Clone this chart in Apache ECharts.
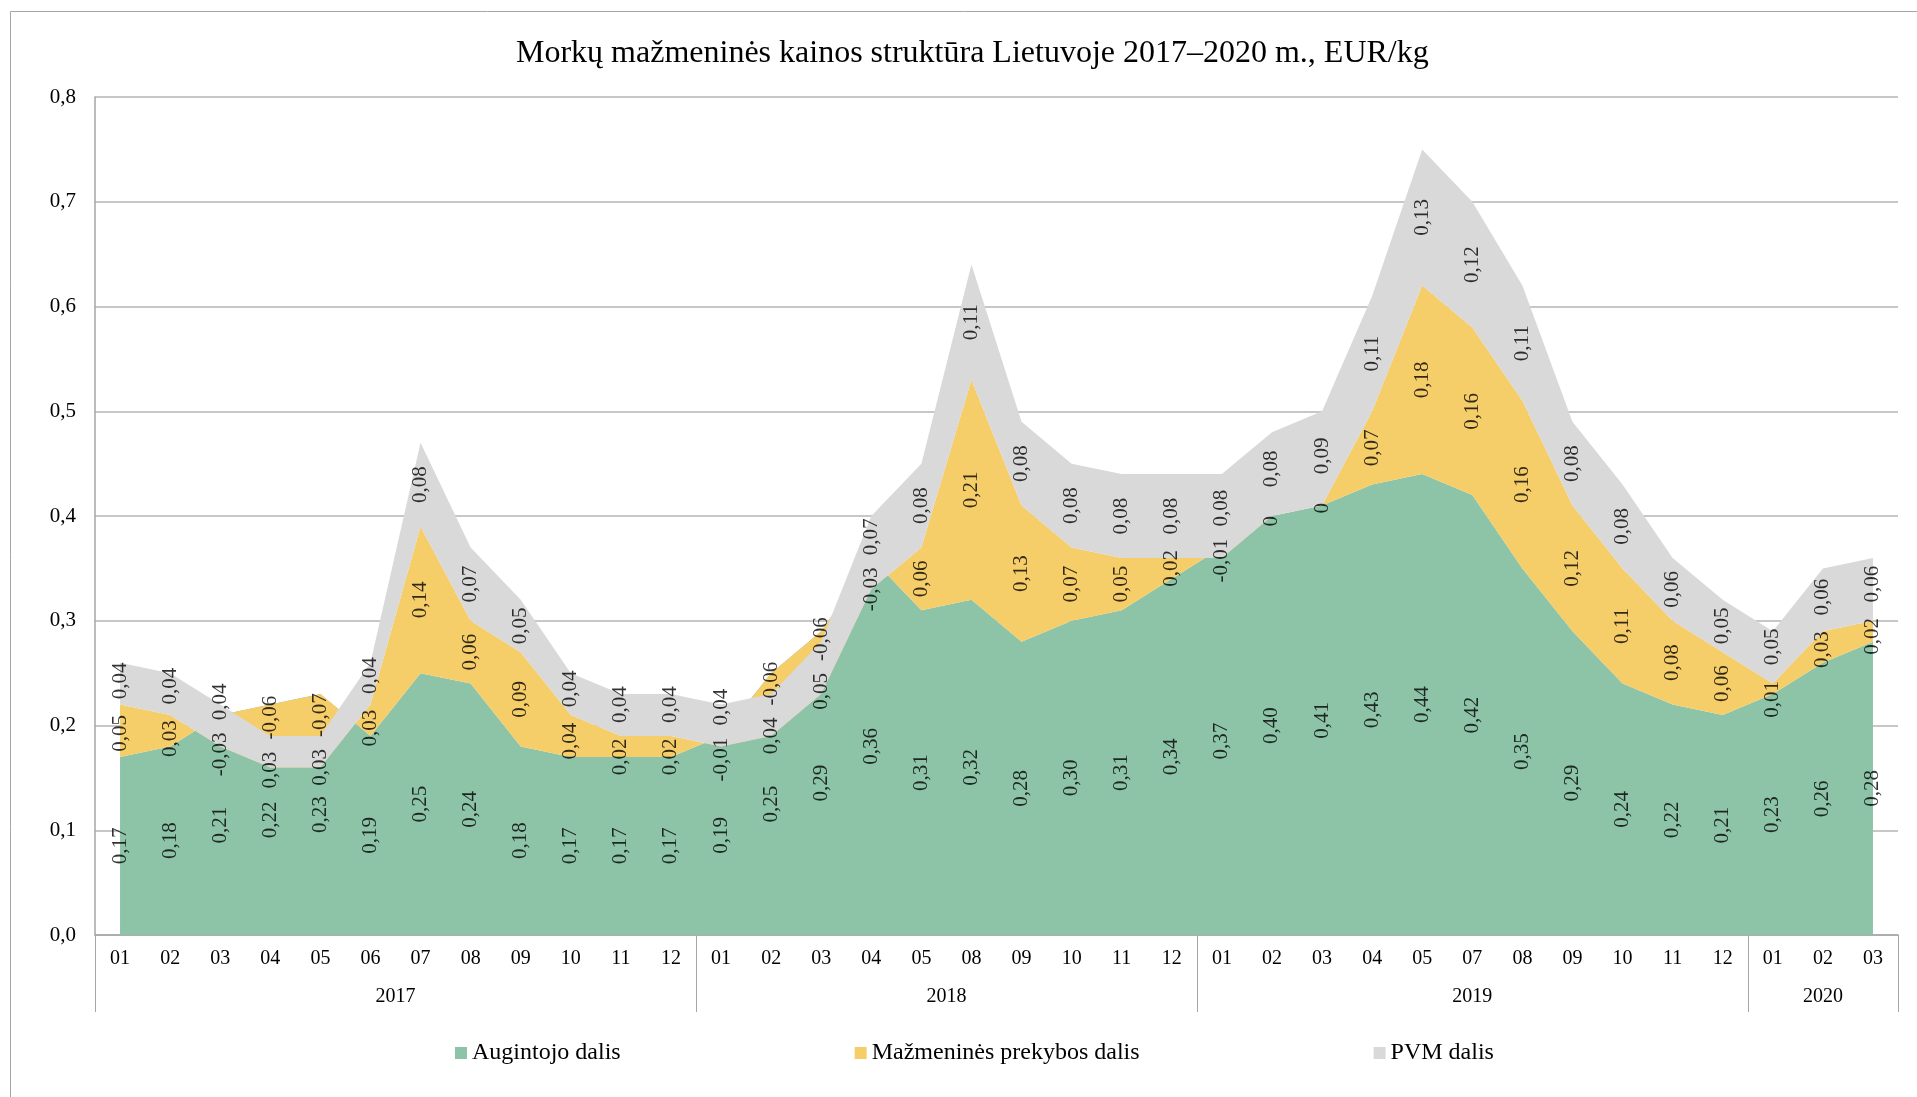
<!DOCTYPE html>
<html>
<head>
<meta charset="utf-8">
<title>Morkų mažmeninės kainos struktūra</title>
<script src="https://cdn.jsdelivr.net/npm/echarts@6/dist/echarts.min.js"></script>
<style>
  html, body { margin: 0; padding: 0; background: #ffffff; }
  #chart { width: 1917px; height: 1097px; }
</style>
</head>
<body>
<div id="chart"></div>
<script>
// Months shown for each year (2018 and 2019 have gaps)
const years = ['2017', '2018', '2019', '2020'];
const monthsByYear = [
  ['01', '02', '03', '04', '05', '06', '07', '08', '09', '10', '11', '12'],
  ['01', '02', '03', '04', '05', '08', '09', '10', '11', '12'],
  ['01', '02', '03', '04', '05', '07', '08', '09', '10', '11', '12'],
  ['01', '02', '03']
];

// Augintojo dalis, EUR/kg
const growerShare = [
  0.17, 0.18, 0.21, 0.22, 0.23, 0.19, 0.25, 0.24, 0.18, 0.17, 0.17, 0.17,
  0.19, 0.25, 0.29, 0.36, 0.31, 0.32, 0.28, 0.30, 0.31, 0.34,
  0.37, 0.40, 0.41, 0.43, 0.44, 0.42, 0.35, 0.29, 0.24, 0.22, 0.21,
  0.23, 0.26, 0.28
];

// Mažmeninės prekybos dalis, EUR/kg
const retailShare = [
  0.05, 0.03, -0.03, -0.06, -0.07, 0.03, 0.14, 0.06, 0.09, 0.04, 0.02, 0.02,
  -0.01, -0.06, -0.06, -0.03, 0.06, 0.21, 0.13, 0.07, 0.05, 0.02,
  -0.01, 0, 0, 0.07, 0.18, 0.16, 0.16, 0.12, 0.11, 0.08, 0.06,
  0.01, 0.03, 0.02
];

// PVM dalis, EUR/kg
const vatShare = [
  0.04, 0.04, 0.04, 0.03, 0.03, 0.04, 0.08, 0.07, 0.05, 0.04, 0.04, 0.04,
  0.04, 0.04, 0.05, 0.07, 0.08, 0.11, 0.08, 0.08, 0.08, 0.08,
  0.08, 0.08, 0.09, 0.11, 0.13, 0.12, 0.11, 0.08, 0.08, 0.06, 0.05,
  0.05, 0.06, 0.06
];

const seriesNames = ['Augintojo dalis', 'Mažmeninės prekybos dalis', 'PVM dalis'];
const seriesColors = ['#8dc3a7', '#f5cd69', '#d9d9d9'];
const FONT = '"Liberation Serif", "Times New Roman", serif';

// Flattened month axis and year group boundaries
const monthLabels = monthsByYear.flat();
const groupStarts = [];
const groupCenters = [];
let acc = 0;
monthsByYear.forEach(m => {
  groupStarts.push(acc);
  groupCenters.push(acc + m.length / 2);
  acc += m.length;
});
const totalCats = acc;
const groupEdges = groupStarts.concat([totalCats]);

const fmtValue = v => (v === 0 ? '0' : v.toFixed(2).replace('.', ','));

// Label anchors: middle of each stacked band, spread apart where
// neighbouring labels in the same month would collide.
const shares = [growerShare, retailShare, vatShare];
const LABEL_SEP = 0.05;
const labelPos = shares.map(() => []);
for (let i = 0; i < totalCats; i++) {
  let base = 0;
  const items = shares.map((arr, k) => {
    const start = base;
    const end = base + arr[i];
    base = end;
    return { k, c: (start + end) / 2 };
  });
  items.sort((a, b) => (a.c - b.c) || (a.k - b.k));
  for (let j = 1; j < items.length; j++) {
    const lo = items[j - 1], hi = items[j];
    if (hi.c - lo.c < LABEL_SEP) {
      const mid = (lo.c + hi.c) / 2;
      lo.c = mid - LABEL_SEP / 2;
      hi.c = mid + LABEL_SEP / 2;
    }
  }
  items.forEach(it => { labelPos[it.k][i] = it.c; });
}

const labelSeries = shares.map((arr, k) => ({
  name: 'label-' + k,
  type: 'scatter',
  xAxisIndex: 0,
  yAxisIndex: 0,
  symbol: 'circle',
  symbolSize: 1,
  itemStyle: { color: 'rgba(0,0,0,0)' },
  silent: true,
  z: 10,
  data: arr.map((v, i) => [i, labelPos[k][i], v]),
  label: {
    show: true,
    position: 'inside',
    rotate: 90,
    color: '#000000',
    fontFamily: FONT,
    fontSize: 21,
    formatter: p => fmtValue(p.value[2])
  },
  labelLayout: { hideOverlap: false }
}));

const areaSeries = shares.map((arr, k) => ({
  name: seriesNames[k],
  type: 'line',
  stack: 'total',
  stackStrategy: 'all',
  symbol: 'none',
  showSymbol: false,
  lineStyle: { width: 0 },
  itemStyle: { color: seriesColors[k] },
  areaStyle: { color: seriesColors[k], opacity: 1 },
  z: 2 + k,
  data: arr
}));

const chart = echarts.init(document.getElementById('chart'), null, { renderer: 'canvas' });

chart.setOption({
  animation: false,
  backgroundColor: '#ffffff',
  textStyle: { fontFamily: FONT },
  title: {
    text: 'Morkų mažmeninės kainos struktūra Lietuvoje 2017–2020 m., EUR/kg',
    left: 511,
    top: 33,
    textStyle: { fontFamily: FONT, fontSize: 32, fontWeight: 'normal', color: '#000000' }
  },
  legend: {
    data: seriesNames,
    left: 450,
    top: 1036,
    icon: 'rect',
    itemWidth: 12,
    itemHeight: 12,
    itemGap: 234,
    textStyle: { fontFamily: FONT, fontSize: 24, color: '#000000' }
  },
  graphic: [{
    type: 'rect',
    shape: { x: 10.5, y: 11.5, width: 1960, height: 1150 },
    style: { fill: 'none', stroke: '#a6a6a6', lineWidth: 1 },
    silent: true,
    z: -1
  }],
  grid: {
    left: 95,
    right: 19,
    top: 97,
    bottom: 162,
    outerBoundsMode: 'none',
    containLabel: false
  },
  xAxis: [{
    type: 'category',
    data: monthLabels,
    boundaryGap: true,
    axisLine: { show: true, lineStyle: { color: '#a6a6a6', width: 1.5 } },
    axisTick: { show: false },
    axisLabel: {
      interval: 0,
      margin: 14,
      fontFamily: FONT,
      fontSize: 20,
      color: '#000000'
    },
    splitLine: { show: false }
  }, {
    type: 'value',
    position: 'bottom',
    min: 0,
    max: totalCats,
    axisLine: { show: false },
    splitLine: { show: false },
    axisTick: {
      show: true,
      customValues: groupEdges,
      length: 77,
      lineStyle: { color: '#a6a6a6', width: 1 }
    },
    axisLabel: {
      show: true,
      customValues: groupCenters,
      margin: 52,
      fontFamily: FONT,
      fontSize: 20,
      color: '#000000',
      formatter: v => {
        const idx = groupCenters.findIndex(c => Math.abs(c - v) < 1e-6);
        return idx >= 0 ? years[idx] : '';
      }
    }
  }],
  yAxis: {
    type: 'value',
    min: 0,
    max: 0.8,
    interval: 0.1,
    axisLine: { show: true, lineStyle: { color: '#a6a6a6', width: 1.5 } },
    axisTick: { show: false },
    axisLabel: {
      margin: 19,
      fontFamily: FONT,
      fontSize: 21,
      color: '#000000',
      formatter: v => v.toFixed(1).replace('.', ',')
    },
    splitLine: { show: true, lineStyle: { color: '#b4b4b4', width: 1.5 } }
  },
  series: areaSeries.concat(labelSeries)
});
</script>
</body>
</html>
